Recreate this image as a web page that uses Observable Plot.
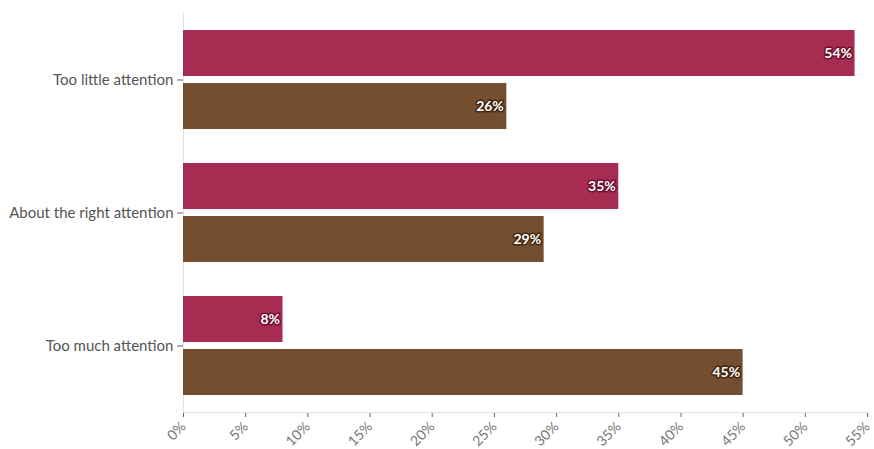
<!DOCTYPE html>
<html>
<head>
<meta charset="utf-8">
<script src="https://cdn.jsdelivr.net/npm/d3@7"></script>
<script src="https://cdn.jsdelivr.net/npm/@observablehq/plot@0.6"></script>
<style>
  html, body { margin: 0; padding: 0; background: #fff; }
  #chart { width: 874px; height: 449px; }
  #chart svg [aria-label="fy-axis tick"] { stroke: #d8d8d8; }
  #chart svg [aria-label="x-axis tick"] { stroke: #d8d8d8; }
  #chart svg [aria-label="fy-axis tick label"] { font-size: 15px; fill: #555; }
  #chart svg [aria-label="x-axis tick label"] { font-size: 14px; fill: #777; }
</style>
</head>
<body>
<div id="chart"></div>
<script>
const categories = ["Too little attention", "About the right attention", "Too much attention"];
const series = ["Group A", "Group B"];
const valuesA = [54, 35, 8];
const valuesB = [26, 29, 45];
const xTicks = [0, 5, 10, 15, 20, 25, 30, 35, 40, 45, 50, 55];

const fillColors = ["#a62c52", "#744e2e"];
const haloColors = ["#6e0f2f", "#452610"];

const data = [];
categories.forEach((c, i) => {
  data.push({category: c, series: series[0], value: valuesA[i]});
  data.push({category: c, series: series[1], value: valuesB[i]});
});

const chart = Plot.plot({
  width: 874,
  height: 449,
  marginTop: 13,
  marginBottom: 37,
  marginLeft: 183,
  marginRight: 7,
  style: {fontFamily: "Lato, 'Open Sans', sans-serif", fontSize: "14px", color: "#666", background: "#fff"},
  x: {domain: [0, 55], ticks: xTicks, tickFormat: d => d + "%", tickRotate: -45, label: null, tickSize: 5},
  y: {domain: series, axis: null, paddingInner: 0.132, paddingOuter: 0.32},
  fy: {domain: categories, label: null, padding: 0, tickSize: 6, tickPadding: 4},
  color: {domain: series, range: fillColors},
  marks: [
    Plot.ruleX([0], {stroke: "#e3e3e3"}),
    Plot.frame({anchor: "bottom", facetAnchor: "bottom", stroke: "#e3e3e3"}),
    Plot.barX(data, {x: "value", y: "series", fy: "category", fill: "series"}),
    Plot.text(data, {
      x: "value", y: "series", fy: "category",
      text: d => d.value + "%",
      textAnchor: "end", dx: -3,
      fill: "white",
      stroke: d => haloColors[series.indexOf(d.series)],
      strokeWidth: 3,
      fontWeight: "bold",
      fontSize: 14
    })
  ]
});
document.getElementById("chart").appendChild(chart);
</script>
</body>
</html>
